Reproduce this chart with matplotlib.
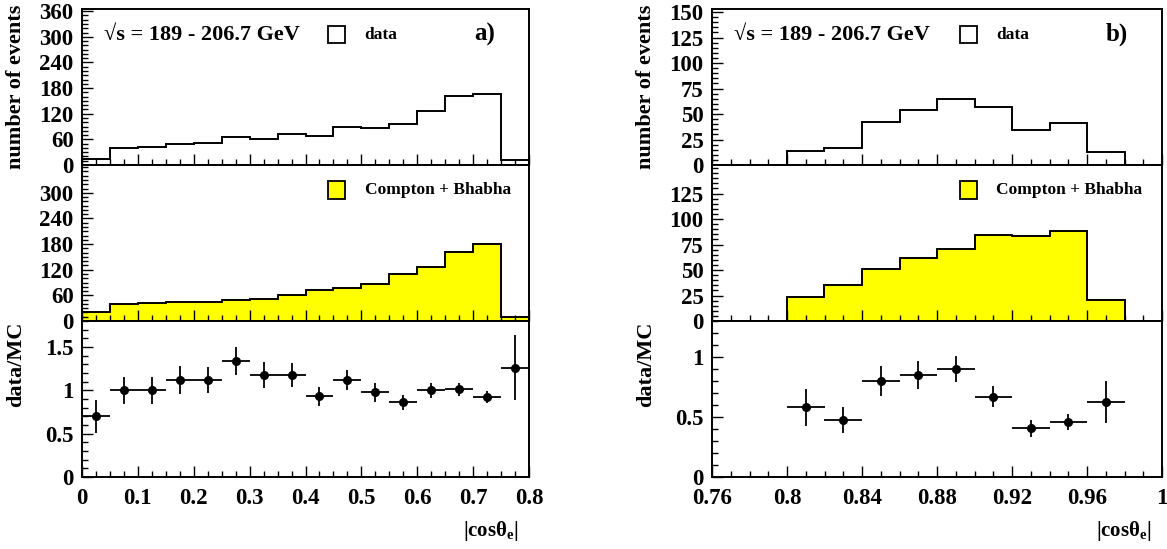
import numpy as np
import matplotlib
matplotlib.use('Agg')
import matplotlib.pyplot as plt
from matplotlib.ticker import MultipleLocator, FixedLocator
from matplotlib.patches import Rectangle

plt.rcParams['font.family'] = ['Liberation Serif', 'DejaVu Serif']
plt.rcParams['font.weight'] = 'bold'
plt.rcParams['mathtext.fontset'] = 'custom'
plt.rcParams['mathtext.rm'] = 'Liberation Serif:bold'
plt.rcParams['mathtext.it'] = 'Liberation Serif:bold'
plt.rcParams['mathtext.bf'] = 'Liberation Serif:bold'

# a) barrel region, bins of 0.05 in |cos theta_e|
edges_a = [0.0, 0.05, 0.1, 0.15, 0.2, 0.25, 0.3, 0.35, 0.4,
           0.45, 0.5, 0.55, 0.6, 0.65, 0.7, 0.75, 0.8]
data_a = [14, 40, 42, 48, 51, 65, 61, 72, 68, 88, 86, 96, 126, 162, 165, 11]
mc_a = [21, 39, 41, 44, 45, 48, 51, 60, 72, 78, 86, 110, 126, 162, 181, 9]
ratio_a = [0.70, 1.00, 1.00, 1.12, 1.12, 1.34, 1.18, 1.18,
           0.93, 1.12, 0.98, 0.86, 1.00, 1.01, 0.92, 1.26]
ratio_err_a = [0.19, 0.155, 0.155, 0.16, 0.155, 0.165, 0.15, 0.14,
               0.11, 0.12, 0.11, 0.09, 0.09, 0.08, 0.07, 0.375]

# b) endcap region, bins of 0.02
edges_b = [0.80, 0.82, 0.84, 0.86, 0.88, 0.90, 0.92, 0.94, 0.96, 0.98]
data_b = [14, 17, 42, 54, 65, 57, 34, 41, 13]
mc_b = [24, 35.5, 51, 62, 71, 84, 83.5, 88.5, 20.5]
ratio_b = [0.58, 0.475, 0.80, 0.85, 0.90, 0.67, 0.405, 0.46, 0.625]
ratio_err_b = [0.155, 0.11, 0.125, 0.115, 0.11, 0.087, 0.073, 0.067, 0.175]

W, H = 1167, 549
fig = plt.figure(figsize=(W / 100, H / 100), dpi=100)

def px_axes(x0, x1, y0, y1):
    return fig.add_axes([x0 / W, 1 - y1 / H, (x1 - x0) / W, (y1 - y0) / H])

def style(ax, xlim, xmaj, xmin, show_x):
    ax.set_xlim(*xlim)
    ax.xaxis.set_major_locator(MultipleLocator(xmaj))
    ax.xaxis.set_minor_locator(MultipleLocator(xmin))
    ax.tick_params(which='both', direction='in', top=False, right=False,
                   labelsize=16.5, width=1.0)
    ax.tick_params(which='major', length=8, pad=6)
    ax.tick_params(which='minor', length=4)
    ax.tick_params(axis='x', labelbottom=show_x, pad=8)
    for s in ax.spines.values():
        s.set_linewidth(1.4)

def column(x0, x1, edges, data, mc, ratio, err, xlim, xmaj, xmin,
           top_max, top_step, top_minor, mid_ticks, r_max, r_ticks, tag,
           xfmt):
    edges = np.array(edges)
    centers = (edges[:-1] + edges[1:]) / 2
    half = (edges[1:] - edges[:-1]) / 2

    ax1 = px_axes(x0, x1, 9, 165)
    ax2 = px_axes(x0, x1, 165, 321)
    ax3 = px_axes(x0, x1, 321, 477)

    # measured events
    ax1.stairs(data, edges, color='black', lw=1.4)
    ax1.set_ylim(0, top_max)
    ax1.yaxis.set_major_locator(MultipleLocator(top_step))
    ax1.yaxis.set_minor_locator(MultipleLocator(top_minor))
    style(ax1, xlim, xmaj, xmin, False)
    ax1.text(0.05, 0.836, '\u221as = 189 - 206.7 GeV',
             transform=ax1.transAxes, fontsize=16, va='center', ha='left')
    ax1.add_patch(Rectangle((0.55, 0.782), 0.039, 0.107, transform=ax1.transAxes,
                            facecolor='white', edgecolor='black', lw=1.3))
    ax1.text(0.632, 0.836, 'data', transform=ax1.transAxes, fontsize=12.5,
             va='center', ha='left')
    ax1.text(0.9, 0.836, tag, transform=ax1.transAxes, fontsize=18,
             va='center', ha='center')

    # simulated Compton + Bhabha
    ax2.stairs(mc, edges, fill=True, facecolor='#ffff00', edgecolor='black', lw=1.2)
    ax2.stairs(mc, edges, color='black', lw=1.2)
    ax2.set_ylim(0, top_max)
    ax2.yaxis.set_major_locator(FixedLocator(mid_ticks))
    ax2.yaxis.set_minor_locator(MultipleLocator(top_minor))
    style(ax2, xlim, xmaj, xmin, False)
    ax2.add_patch(Rectangle((0.55, 0.78), 0.039, 0.115, transform=ax2.transAxes,
                            facecolor='#ffff00', edgecolor='black', lw=1.3))
    ax2.text(0.632, 0.838, 'Compton + Bhabha', transform=ax2.transAxes,
             fontsize=12.5, va='center', ha='left')

    # data / MC ratio
    ax3.errorbar(centers, ratio, xerr=half, yerr=err, fmt='o', color='black',
                 ms=5.5, elinewidth=1.3, capsize=0)
    ax3.set_ylim(0, r_max)
    ax3.yaxis.set_major_locator(FixedLocator(r_ticks))
    ax3.yaxis.set_minor_locator(MultipleLocator(0.1))
    style(ax3, xlim, xmaj, xmin, True)
    ax3.xaxis.set_major_formatter(xfmt)
    ax3.yaxis.set_major_formatter(lambda v, p: '{:g}'.format(v))

    fig.text((x0 - 66) / W, 1 - 5 / H, 'number of events', rotation=90,
             fontsize=16, va='top', ha='center')
    fig.text((x0 - 66) / W, 1 - 322 / H, 'data/MC', rotation=90,
             fontsize=16, va='top', ha='center')
    fig.text((x1 - 10) / W, 1 - 531 / H, r'$\mathrm{|cos\theta_e|}$',
             fontsize=15, va='center', ha='right')

column(82, 529, edges_a, data_a, mc_a, ratio_a, ratio_err_a,
       (0, 0.8), 0.1, 0.025, 365, 60, 10, [0, 60, 120, 180, 240, 300],
       1.8, [0, 0.5, 1, 1.5], 'a)', lambda v, p: '{:g}'.format(round(v, 2)))
column(712, 1162, edges_b, data_b, mc_b, ratio_b, ratio_err_b,
       (0.76, 1.0), 0.04, 0.01, 153, 25, 5, [0, 25, 50, 75, 100, 125],
       1.3, [0, 0.5, 1], 'b)', lambda v, p: '{:g}'.format(round(v, 2)))

fig.savefig('out.png', dpi=100)
